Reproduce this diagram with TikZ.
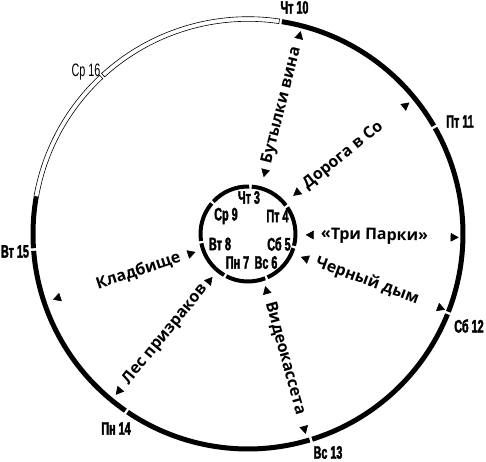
\documentclass[tikz,border=0pt]{standalone}
\usepackage{fontspec}
\setmainfont{Open Sans}
\newfontfamily\dayfont[FakeStretch=0.6,FakeBold=2]{Liberation Sans}
\newfontfamily\dayfontlt[FakeStretch=0.6]{Liberation Sans}
\usepackage{tikz}
\usetikzlibrary{arrows.meta}
\tikzset{
  ringout/.style={line width=3.75pt,black},
  ringin/.style={line width=3pt,black},
  hollow/.style={line width=.45pt,black,fill=white},
  conn/.style={white,{Triangle[color=black,length=6pt,width=6.5pt]}-{Triangle[color=black,length=6pt,width=6.5pt]}},
  lab/.style={font=\bfseries\fontsize{12}{14}\selectfont,text=black,inner sep=1pt,sloped},
  dayo/.style={font=\dayfont\bfseries\fontsize{13.5}{15}\selectfont,inner sep=0pt},
  daylt/.style={font=\dayfontlt\fontsize{13.5}{15}\selectfont,inner sep=0pt},
  dayi/.style={font=\dayfont\bfseries\fontsize{13.5}{15}\selectfont,inner sep=0pt}
}

\begin{document}
\begin{tikzpicture}[x=.75pt,y=.75pt]
  \useasboundingbox (-248,-227) rectangle (238,234);
  \coordinate (c) at (0,0);

  \draw[ringout] (80.95:215) arc[start angle=80.95,end angle=30.22,radius=215];
  \draw[ringout] (29.52:215) arc[start angle=29.52,end angle=-21.21,radius=215];
  \draw[ringout] (-21.91:215) arc[start angle=-21.91,end angle=-72.64,radius=215];
  \draw[ringout] (-73.34:215) arc[start angle=-73.34,end angle=-124.07,radius=215];
  \draw[ringout] (-124.77:215) arc[start angle=-124.77,end angle=-175.5,radius=215];
  \draw[ringout] (-176.2:215) arc[start angle=-176.2,end angle=-190,radius=215];
  \draw[hollow] (-190:212.7) arc[start angle=-190,end angle=-226.93,radius=212.7]
    -- (-226.93:217.3) arc[start angle=-226.93,end angle=-190,radius=217.3] -- cycle;
  \draw[hollow] (-227.63:212.7) arc[start angle=-227.63,end angle=-278.35,radius=212.7]
    -- (-278.35:217.3) arc[start angle=-278.35,end angle=-227.63,radius=217.3] -- cycle;

  \draw[ringin] (85.5:47.5) arc[start angle=85.5,end angle=37.07,radius=47.5];
  \draw[ringin] (34.07:47.5) arc[start angle=34.07,end angle=-14.36,radius=47.5];
  \draw[ringin] (-17.36:47.5) arc[start angle=-17.36,end angle=-65.79,radius=47.5];
  \draw[ringin] (-68.79:47.5) arc[start angle=-68.79,end angle=-117.21,radius=47.5];
  \draw[ringin] (-120.21:47.5) arc[start angle=-120.21,end angle=-168.64,radius=47.5];
  \draw[ringin] (-171.64:47.5) arc[start angle=-171.64,end angle=-220.07,radius=47.5];
  \draw[ringin] (-223.07:47.5) arc[start angle=-223.07,end angle=-271.5,radius=47.5];

  \node[dayo] (thu10) at (46.5,226.5) {Чт\,10};
  \node[dayo] (fri11) at (212,112.5) {Пт\,11};
  \node[dayo] (sat12) at (221,-92) {Сб\,12};
  \node[dayo] (sun13) at (80,-218.5) {Вс\,13};
  \node[dayo] (mon14) at (-132,-194.5) {Пн\,14};
  \node[dayo] (tue15) at (-233,-17.5) {Вт\,15};
  \node[daylt] (wed16) at (-162,161.5) {Ср\,16};

  \node[dayi] (thu3) at (1,36.5) {Чт\,3};
  \node[dayi] (fri4) at (29.5,18) {Пт\,4};
  \node[dayi] (sat5) at (31,-10) {Сб\,5};
  \node[dayi] (sun6) at (18,-28.5) {Вс\,6};
  \node[dayi] (mon7) at (-10.5,-28.5) {Пн\,7};
  \node[dayi] (tue8) at (-28,-10) {Вт\,8};
  \node[dayi] (wed9) at (-22,18) {Ср\,9};

  \coordinate (winei) at (15.7,56.8);
  \coordinate (wineo) at (52.7,202.9);
  \coordinate (roadi) at (45.2,38.2);
  \coordinate (roado) at (161.4,131.5);
  \coordinate (parksi) at (57.7,-0.9);
  \coordinate (parkso) at (210.7,-3.4);
  \coordinate (smokei) at (52.9,-22.9);
  \coordinate (smokeo) at (197.1,-75.7);
  \coordinate (tapei) at (17.2,-52.1);
  \coordinate (tapeo) at (57.8,-199.9);
  \coordinate (foresti) at (-35.5,-42.9);
  \coordinate (foresto) at (-132.2,-160.8);
  \coordinate (gravei) at (-52.5,-18);
  \coordinate (graveo) at (-195.1,-65.6);

  \draw[conn] (winei) -- (wineo) node[lab,pos=.49] {Бутылки вина};
  \draw[conn] (roadi) -- (roado) node[lab,pos=.43] {Дорога в Со};
  \draw[conn] (parksi) -- (parkso) node[lab,pos=.45] {«Три Парки»};
  \draw[conn] (smokei) -- (smokeo) node[lab,pos=.46] {Черный дым};
  \draw[conn] (tapei) -- (tapeo) node[lab,pos=.49] {Видеокассета};
  \draw[conn] (foresti) -- (foresto) node[lab,pos=.49] {Лес призраков};
  \draw[conn] (gravei) -- (graveo) node[lab,pos=.40] {Кладбище};
\end{tikzpicture}
\end{document}
